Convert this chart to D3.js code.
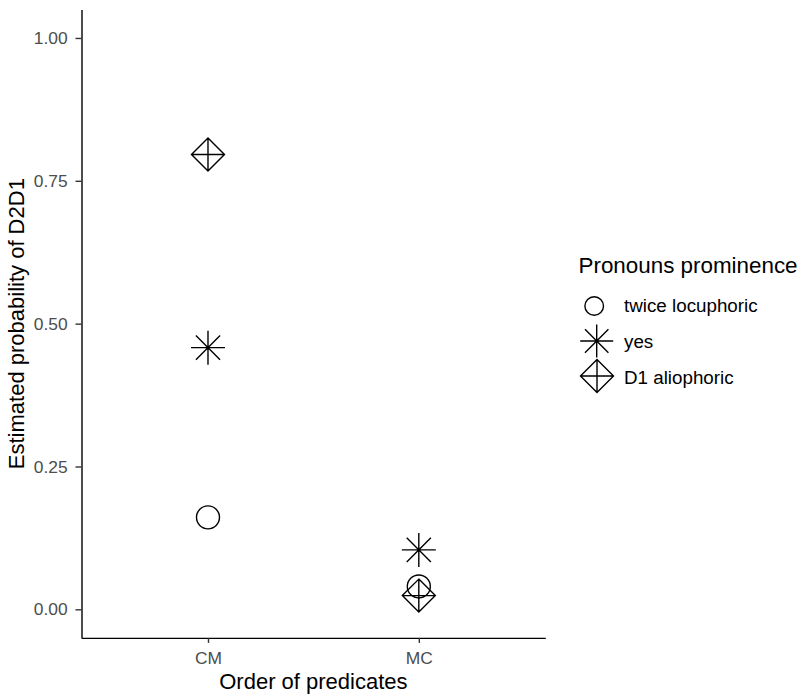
<!DOCTYPE html>
<html>
<head>
<meta charset="utf-8">
<script src="https://cdn.jsdelivr.net/npm/d3@7"></script>
<style>
  html, body { margin: 0; padding: 0; background: #fff; }
  svg { display: block; font-family: "Liberation Sans", Arial, sans-serif; }
</style>
</head>
<body>
<svg id="chart" width="801" height="698"></svg>
<script>
// Data
const categories = ["CM", "MC"];
const groups = ["twice locuphoric", "yes", "D1 aliophoric"];
const twiceLocuphoric = [0.161, 0.040];
const yesValues = [0.458, 0.104];
const d1Aliophoric = [0.796, 0.024];
const yTicks = [0, 0.25, 0.5, 0.75, 1];
const xTitle = "Order of predicates";
const yTitle = "Estimated probability of D2D1";
const legendTitle = "Pronouns prominence";

const series = [
  { name: groups[0], shape: "circle", values: twiceLocuphoric },
  { name: groups[1], shape: "asterisk", values: yesValues },
  { name: groups[2], shape: "diamondPlus", values: d1Aliophoric }
];

const svg = d3.select("#chart");
const panel = { left: 81.5, right: 545.3, top: 9.4, bottom: 637.9 };

const x = d3.scalePoint().domain(categories)
  .range([panel.left, panel.right]).padding(0.6);
const y = d3.scaleLinear().domain([-0.05, 1.05])
  .range([panel.bottom, panel.top]);

// Shape path generators (centred on 0,0)
function shapePath(shape, s) {
  const p = d3.path();
  if (shape === "circle") {
    p.moveTo(s.r, 0);
    p.arc(0, 0, s.r, 0, 2 * Math.PI);
  } else if (shape === "asterisk") {
    const a = s.arm, d = s.arm * 0.71;
    p.moveTo(-a, 0); p.lineTo(a, 0);
    p.moveTo(0, -a); p.lineTo(0, a);
    p.moveTo(-d, -d); p.lineTo(d, d);
    p.moveTo(-d, d); p.lineTo(d, -d);
  } else {
    const h = s.half;
    p.moveTo(0, -h); p.lineTo(h, 0); p.lineTo(0, h); p.lineTo(-h, 0); p.closePath();
    p.moveTo(-h, 0); p.lineTo(h, 0);
    p.moveTo(0, -h); p.lineTo(0, h);
  }
  return p.toString();
}
const plotSize = { r: 11.5, arm: 17, half: 16.5 };
const legendSize = { r: 9.3, arm: 16.5, half: 16.5 };

// Axes
const yAxis = d3.axisLeft(y).tickValues(yTicks)
  .tickFormat(d3.format(".2f")).tickSize(6).tickSizeOuter(0).tickPadding(7.8);
const xAxis = d3.axisBottom(x).tickSize(5).tickSizeOuter(0).tickPadding(8.5);

const gy = svg.append("g").attr("transform", `translate(${panel.left},0)`).call(yAxis);
const gx = svg.append("g").attr("transform", `translate(0,${panel.bottom})`).call(xAxis);

[gx, gy].forEach(g => {
  g.select(".domain").attr("stroke", "#000").attr("stroke-width", 1.4);
  g.selectAll(".tick line").attr("stroke", "#333").attr("stroke-width", 1.4);
  g.selectAll(".tick text").attr("fill", "#4d4d4d")
    .style("font-size", "17.4px").style("font-family", "Liberation Sans, Arial, sans-serif");
});

// Axis titles
svg.append("text")
  .attr("x", (panel.left + panel.right) / 2).attr("y", 689)
  .attr("text-anchor", "middle").attr("fill", "#000")
  .style("font-size", "22px").text(xTitle);

svg.append("text")
  .attr("transform", `translate(23.5,${(panel.top + panel.bottom) / 2}) rotate(-90)`)
  .attr("text-anchor", "middle").attr("fill", "#000")
  .style("font-size", "22px").text(yTitle);

// Points
const pts = svg.append("g");
series.forEach(s => {
  pts.selectAll(null).data(s.values).enter().append("path")
    .attr("transform", (v, i) => `translate(${x(categories[i])},${y(v)})`)
    .attr("d", shapePath(s.shape, plotSize))
    .attr("fill", "none").attr("stroke", "#000").attr("stroke-width", 1.4);
});

// Legend
const legend = svg.append("g");
legend.append("text").attr("x", 578.5).attr("y", 273)
  .attr("fill", "#000").style("font-size", "22.4px").text(legendTitle);

const keyX = [594.2, 596.7, 597];
const keyY = [306, 341, 376];
const labelY = [311.7, 347.5, 383.5];
series.forEach((s, i) => {
  legend.append("path")
    .attr("transform", `translate(${keyX[i]},${keyY[i]})`)
    .attr("d", shapePath(s.shape, legendSize))
    .attr("fill", "none").attr("stroke", "#000").attr("stroke-width", 1.4);
  legend.append("text").attr("x", 624).attr("y", labelY[i])
    .attr("fill", "#000").style("font-size", "18.8px").text(s.name);
});
</script>
</body>
</html>
